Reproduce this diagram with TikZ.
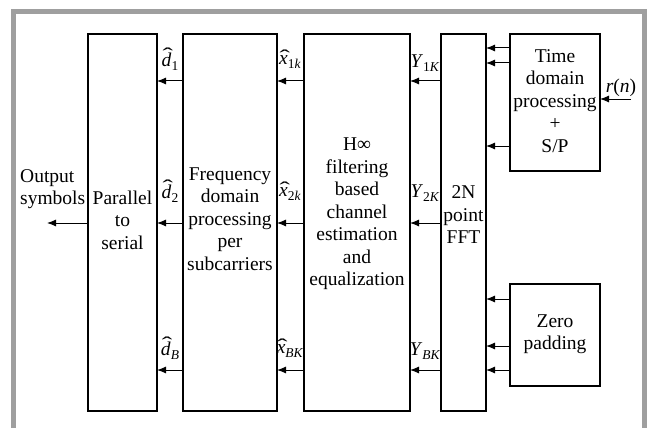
\documentclass[tikz,border=0pt]{standalone}
\usepackage{fontspec}
\usepackage{graphicx}
\setmainfont{Liberation Serif}
\usetikzlibrary{arrows.meta}
\newcommand{\sbx}[1]{\raisebox{-0.4ex}{\fontsize{13.5}{13.5}\selectfont #1}}
\newcommand{\hatit}[2]{\ooalign{\textit{#1}\cr\hidewidth\kern0.12em\raisebox{#2}{\scalebox{1.6}[1]{ˆ}}\hidewidth\cr}}
\begin{document}
\begin{tikzpicture}[x=1pt,y=-1pt,
  blk/.style={draw=black,line width=1.1pt,inner sep=0pt,outer sep=0pt},
  txt/.style={inner sep=0pt,align=center,font=\fontsize{19.5}{22.5}\selectfont},
  lbl/.style={inner sep=0pt,font=\fontsize{19.5}{22.5}\selectfont},
  arr/.style={line width=1pt,-{Latex[length=9pt,width=7pt]}}]
\useasboundingbox (0,0) rectangle (648,428);
\fill[white] (0,0) rectangle (648,428);
% gray frame
\fill[gray!75] (11,9) rectangle (647,14);
\fill[gray!75] (11,9) rectangle (16,428);
\fill[gray!75] (642,9) rectangle (647,428);
% boxes
\node[blk,minimum width=69pt,minimum height=377pt] (ps) at (122.5,222.5) {};
\node[blk,minimum width=94pt,minimum height=377pt] (fd) at (230,222.5) {};
\node[blk,minimum width=106pt,minimum height=377pt] (hi) at (357,222.5) {};
\node[blk,minimum width=45pt,minimum height=377pt] (fft) at (463.5,222.5) {};
\node[blk,minimum width=90pt,minimum height=137pt] (td) at (555,102.5) {};
\node[blk,minimum width=90pt,minimum height=102pt] (zp) at (555,335) {};
% box texts
\node[txt] (pst) at (122.5,220) {Parallel\\to\\serial};
\node[txt] (fdt) at (230,219) {Frequency\\domain\\processing\\per\\subcarriers};
\node[txt] (hit) at (357,214) {H∞\\filtering\\based\\channel\\estimation\\and\\equalization};
\node[txt] (fftt) at (463.5,215) {2N\\point\\FFT};
\node[txt] (tdt) at (555,101) {Time\\domain\\processing\\+\\S/P};
\node[txt] (zpt) at (555,334) {Zero\\padding};
\node[txt,align=left,anchor=west] (out) at (20,189) {Output\\symbols};
% row coordinates
\coordinate (r1) at (0,81);
\coordinate (r2) at (0,223);
\coordinate (r3) at (0,370);
% arrows between main blocks
\foreach \r in {r1,r2,r3}{
  \draw[arr] (fd.west |- \r) -- (ps.east |- \r);
  \draw[arr] (hi.west |- \r) -- (fd.east |- \r);
  \draw[arr] (fft.west |- \r) -- (hi.east |- \r);
}
\coordinate (outend) at (47,223);
\draw[arr] (ps.west |- r2) -- (outend);
% time domain to FFT
\foreach \yy in {48,63,146}{
  \draw[arr] (td.west |- 0,\yy) -- (fft.east |- 0,\yy);
}
\foreach \yy in {299,346,370}{
  \draw[arr] (zp.west |- 0,\yy) -- (fft.east |- 0,\yy);
}
\coordinate (rin) at (631,99);
\draw[arr] (rin) -- (td.east |- rin);
\node[lbl] (rn) at (621,88) {\textit{r}(\textit{n})};
% labels
\node[lbl] (d1) at (170,62) {\hatit{d}{0.28em}\sbx{1}};
\node[lbl] (d2) at (170,194) {\hatit{d}{0.28em}\sbx{2}};
\node[lbl] (dB) at (170,351) {\hatit{d}{0.28em}\sbx{\textit{B}}};
\node[lbl] (x1) at (290,62) {\hatit{x}{0.05em}\sbx{1\textit{k}}};
\node[lbl] (x2) at (290,194) {\hatit{x}{0.05em}\sbx{2\textit{k}}};
\node[lbl] (xB) at (290,351) {\hatit{x}{0.05em}\sbx{\textit{BK}}};
\node[lbl] (y1) at (425,63) {\textit{Y}\sbx{1\textit{K}}};
\node[lbl] (y2) at (425,193) {\textit{Y}\sbx{2\textit{K}}};
\node[lbl] (yB) at (425,351) {\textit{Y}\sbx{\textit{BK}}};
\end{tikzpicture}
\end{document}
